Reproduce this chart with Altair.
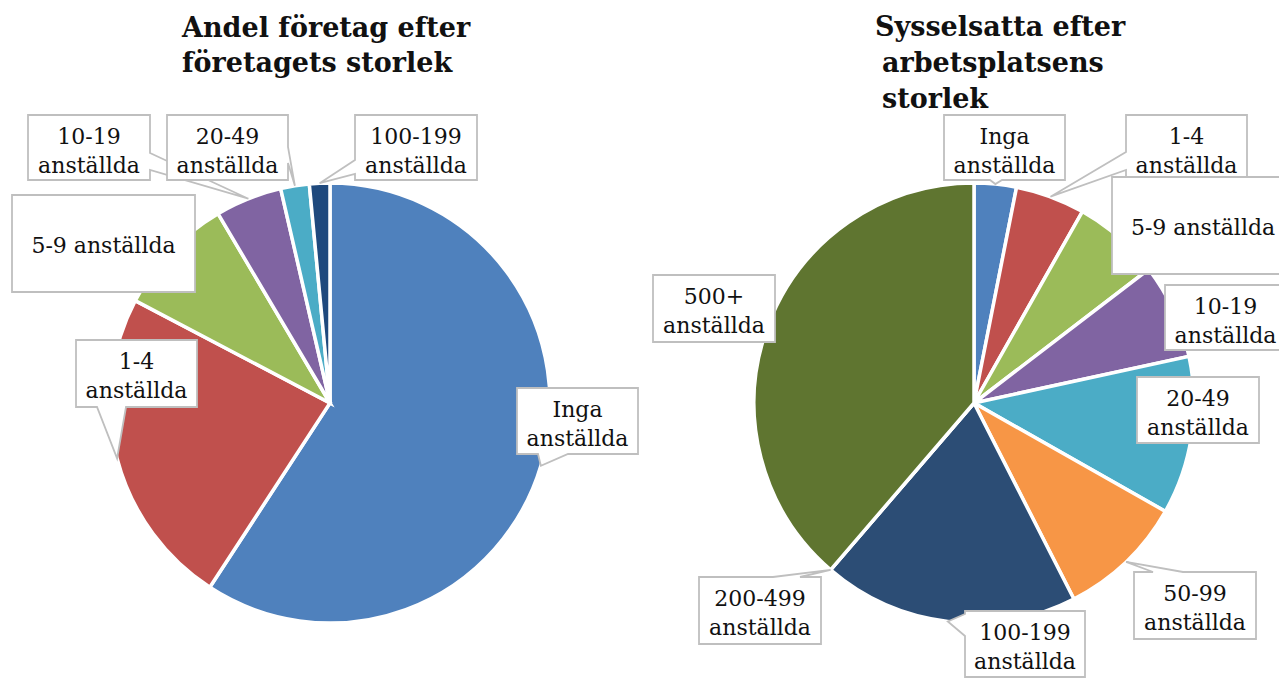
import math
import altair as alt
import pandas as pd

# ---------------- data (percent of each pie) ----------------
left_categories = ["Inga anställda", "1-4 anställda", "5-9 anställda", "10-19 anställda",
                   "20-49 anställda", "100-199 anställda"]
left_values = [59.2, 23.5, 8.8, 4.9, 2.1, 1.5]

right_categories = ["Inga anställda", "1-4 anställda", "5-9 anställda", "10-19 anställda",
                    "20-49 anställda", "50-99 anställda", "100-199 anställda",
                    "200-499 anställda", "500+ anställda"]
right_values = [3.1, 5.1, 6.4, 7.0, 11.6, 9.3, 18.8, 0.0, 38.7]

left_title = ["Andel företag efter", "företagets storlek"]
right_title = ["Sysselsatta efter", "arbetsplatsens", "storlek"]

# ---------------- style / layout ----------------
W, H = 1271, 670
M = 8                       # page margin; layout numbers below are page pixels
R = 220
FONT = "DejaVu Serif"
left_colors = ["#4F81BD", "#C0504D", "#9BBB59", "#8064A2", "#4BACC6", "#1F497D"]
right_colors = ["#4F81BD", "#C0504D", "#9BBB59", "#8064A2", "#4BACC6", "#F79646",
                "#2C4D75", "#772C2A", "#5F7530"]
left_center = (330, 403)
right_center = (974, 403)

# callout boxes (x0, y0, x1, y1), number of text lines, wedge (edge, from, to) or None
left_boxes = [
    ((517, 388, 638, 454), 2, ("bottom", 538, 568)),
    ((76, 340, 197, 407), 2, ("bottom", 97, 126)),
    ((12, 195, 195, 292), 1, None),
    ((28, 115, 150, 180), 2, ("right", 153, 170)),
    ((167, 115, 288, 180), 2, ("right", 147, 163)),
    ((355, 115, 477, 180), 2, ("left", 160, 174)),
]
right_boxes = [
    ((944, 115, 1065, 180), 2, ("bottom", 990, 1002)),
    ((1126, 115, 1247, 180), 2, ("left", 152, 170)),
    ((1112, 177, 1294, 274), 1, None),
    ((1165, 285, 1286, 350), 2, None),
    ((1137, 377, 1259, 443), 2, None),
    ((1134, 572, 1256, 639), 2, ("top", 1153, 1183)),
    ((965, 611, 1085, 677), 2, ("left", 614, 636)),
    ((699, 577, 821, 644), 2, ("top", 773, 800)),
    ((653, 275, 775, 342), 2, None),
]
left_title_x = [182, 182]
right_title_x = [875, 882, 882]
left_title_y = (37, 35)     # first baseline, line step
right_title_y = (36, 36)

xs = alt.Scale(domain=[0, W], nice=False, zero=False)
ys = alt.Scale(domain=[0, H], nice=False, zero=False, reverse=True)

arc_rows, text_rows, features = [], [], []


def add_pie(cats, vals, colors, center, boxes):
    total = float(sum(vals))
    cum = 0.0
    cx, cy = center
    for cat, v, col, (box, nlines, wedge) in zip(cats, vals, colors, boxes):
        t0 = cum / total
        cum += v
        t1 = cum / total
        arc_rows.append({"cx": cx - M, "cy": cy - M, "t0": t0, "t1": t1, "color": col, "cat": cat})
        mid = (t0 + t1) / 2 * 2 * math.pi
        tip = (cx + R * math.sin(mid) - M, cy - R * math.cos(mid) - M)
        x0, y0, x1, y1 = [c - M for c in box]
        pts = [(x0, y0)]
        side = None
        if wedge is not None:
            side, a, b = wedge[0], wedge[1] - M, wedge[2] - M
        if side == "top":
            pts += [(a, y0), tip, (b, y0)]
        pts.append((x1, y0))
        if side == "right":
            pts += [(x1, a), tip, (x1, b)]
        pts.append((x1, y1))
        if side == "bottom":
            pts += [(b, y1), tip, (a, y1)]
        pts.append((x0, y1))
        if side == "left":
            pts += [(x0, b), tip, (x0, a)]
        pts.append((x0, y0))
        features.append({"type": "Feature", "properties": {"cat": cat},
                         "geometry": {"type": "Polygon",
                                      "coordinates": [[[float(p[0]), float(p[1])] for p in pts]]}})
        xm = (x0 + x1) / 2
        if nlines == 1:
            text_rows.append({"x": xm, "y": (y0 + y1) / 2 + 9.5, "t": cat})
        else:
            first, rest = cat.split(" ", 1)
            text_rows.append({"x": xm, "y": y0 + 29, "t": first})
            text_rows.append({"x": xm, "y": y0 + 58, "t": rest})


add_pie(left_categories, left_values, left_colors, left_center, left_boxes)
add_pie(right_categories, right_values, right_colors, right_center, right_boxes)

title_rows = []
for lines, txs, (ty, step) in ((left_title, left_title_x, left_title_y),
                               (right_title, right_title_x, right_title_y)):
    for i, ln in enumerate(lines):
        title_rows.append({"x": txs[i] - M, "y": ty - M + i * step, "t": ln})

arcs = alt.Chart(pd.DataFrame(arc_rows)).mark_arc(
    outerRadius=R, stroke="white", strokeWidth=3.5
).encode(
    x=alt.X("cx:Q", scale=xs, axis=None),
    y=alt.Y("cy:Q", scale=ys, axis=None),
    theta=alt.Theta("t0:Q", stack=None, scale=alt.Scale(domain=[0, 1], range=[0, 2 * math.pi])),
    theta2="t1:Q",
    color=alt.Color("color:N", scale=None, legend=None),
)

callouts = alt.Chart(alt.Data(values=features)).mark_geoshape(
    fill="white", stroke="#BFBFBF", strokeWidth=1.8
).project(type="identity", scale=1, translate=[0, 0])

labels = alt.Chart(pd.DataFrame(text_rows)).mark_text(
    font=FONT, fontSize=22, align="center", baseline="alphabetic", color="#111111"
).encode(
    x=alt.X("x:Q", scale=xs, axis=None),
    y=alt.Y("y:Q", scale=ys, axis=None),
    text="t:N",
)

titles = alt.Chart(pd.DataFrame(title_rows)).mark_text(
    font=FONT, fontSize=27, fontWeight="bold", align="left", baseline="alphabetic", color="#111111"
).encode(
    x=alt.X("x:Q", scale=xs, axis=None),
    y=alt.Y("y:Q", scale=ys, axis=None),
    text="t:N",
)

chart = alt.layer(arcs, callouts, labels, titles).properties(
    width=W, height=H, padding=0, autosize=alt.AutoSizeParams(type="none")
).configure_view(stroke=None)

chart.save("out.html", embed_options={"renderer": "svg", "actions": False})
